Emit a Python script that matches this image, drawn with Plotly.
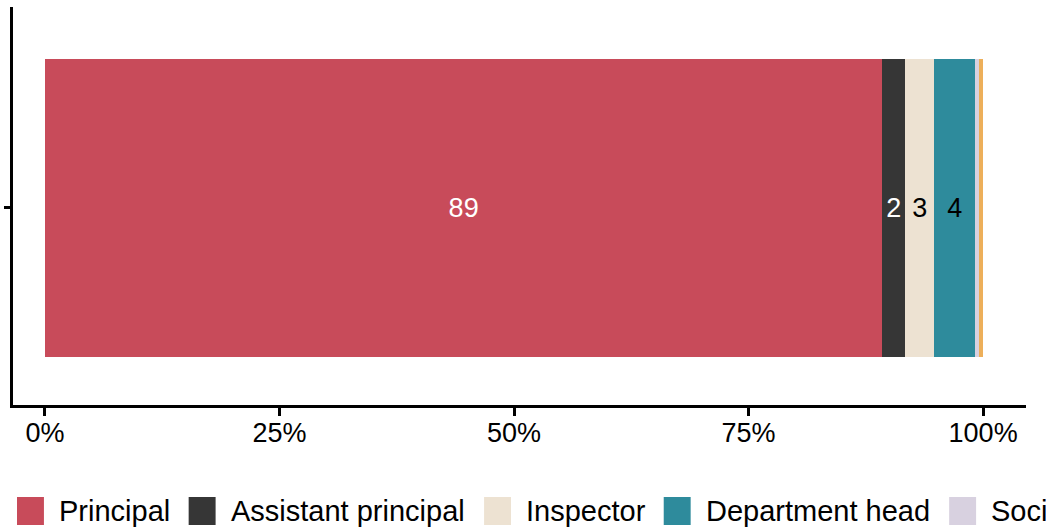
import plotly.graph_objects as go

# ---- data ----
roles = ["Principal", "Assistant principal", "Inspector", "Department head",
         "Social worker", "Other"]
shares = [89.26, 2.45, 3.09, 4.36, 0.42, 0.42]   # percent of respondents
colors = ["#C84B5A", "#363636", "#EDE2D2", "#2E8B9C", "#D8D1E0", "#EDAF5A"]
label_colors = ["white", "white", "black", "black", "black", "black"]
x_ticks = [0, 25, 50, 75, 100]
x_tick_labels = ["0%", "25%", "50%", "75%", "100%"]

FONT = "Arial, Liberation Sans, Helvetica, sans-serif"
W, H = 1046, 531
ML, MR, MT, MB = 11, 20, 7, 126
PW, PH = W - ML - MR, H - MT - MB

fig = go.Figure()
for role, val, col, lc in zip(roles, shares, colors, label_colors):
    fig.add_trace(go.Bar(
        x=[val], y=[0], orientation="h", name=role,
        marker=dict(color=col, line=dict(width=0)),
        width=0.9,
        text=[f"{round(val)}" if val >= 1 else ""],
        textposition="inside", insidetextanchor="middle", textangle=0,
        textfont=dict(color=lc, size=27, family=FONT),
        showlegend=False,
        hoverinfo="x+name",
    ))

# ---- manual legend (large square keys as in reference) ----
legend_left_px = [15, 187, 483, 663, 949, 1178]
key_w, key_top, key_bot = 27, 497, 525
def px_x(p):
    return (p - ML) / PW
def px_y(p):
    return (H - MB - p) / PH

shapes = []
annotations = []
for role, col, lx in zip(roles, colors, legend_left_px):
    shapes.append(dict(type="rect", xref="paper", yref="paper",
                       x0=px_x(lx), x1=px_x(lx + key_w),
                       y0=px_y(key_bot), y1=px_y(key_top),
                       fillcolor=col, line=dict(width=0), layer="above"))
    annotations.append(dict(xref="paper", yref="paper",
                            x=px_x(lx + key_w + 13), y=px_y((key_top + key_bot) / 2),
                            xanchor="left", yanchor="middle", showarrow=False,
                            text=role, font=dict(size=29, family=FONT, color="black")))

fig.update_layout(
    width=W, height=H,
    margin=dict(l=ML, r=MR, t=MT, b=MB, pad=0),
    barmode="stack",
    plot_bgcolor="white", paper_bgcolor="white",
    font=dict(family=FONT, color="black"),
    uniformtext=dict(mode="show", minsize=26),
    showlegend=False,
    shapes=shapes,
    annotations=annotations,
    xaxis=dict(range=[-3.4, 104.57], tickvals=x_ticks, ticktext=x_tick_labels,
               showgrid=False, zeroline=False, showline=True, linecolor="black",
               linewidth=2.5, ticks="outside", ticklen=8, tickwidth=2.5,
               ticklabelstandoff=-6,
               tickcolor="black", tickfont=dict(size=27, family=FONT, color="black")),
    yaxis=dict(range=[-0.595, 0.607], tickvals=[0], ticktext=[""],
               showgrid=False, zeroline=False, showline=True, linecolor="black",
               linewidth=2.5, ticks="outside", ticklen=6, tickwidth=2.5,
               tickcolor="black"),
)

fig.write_html("out.html",
               config={"displayModeBar": False},
               post_script="document.body.style.margin='0px';document.body.style.padding='0px';")
